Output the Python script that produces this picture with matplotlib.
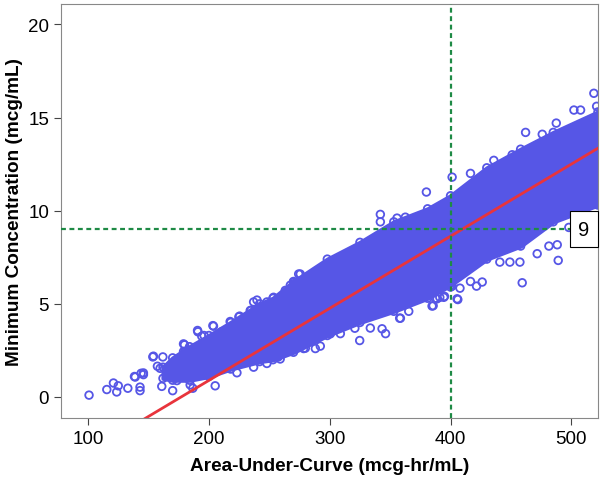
import numpy as np
import matplotlib
matplotlib.use("Agg")
import matplotlib.pyplot as plt

plt.rcParams['font.family'] = ['Liberation Sans', 'DejaVu Sans']

# dense core of the simulated cloud (upper / lower edge)
band_x = [162, 170, 184, 200, 218, 242, 253, 270, 298, 325, 353, 381, 400, 430, 458, 485, 522]
band_hi = [1.6, 2.1, 2.7, 3.3, 4.0, 5.0, 5.3, 6.2, 7.4, 8.3, 9.4, 10.1, 10.8, 12.3, 13.3, 14.2, 15.3]
band_lo = [1.0, 0.9, 0.9, 1.1, 1.5, 1.9, 2.0, 2.4, 3.3, 4.0, 4.6, 5.3, 6.0, 7.4, 8.1, 9.4, 10.3]

# scattered points outside the core
auc_pts = [100.8, 115.5, 121, 123.7, 125, 132.9, 139, 143, 145.8, 153.6, 161.9, 161, 170,
           179.8, 179.8, 186.7, 190.9, 196, 203.8, 205.2, 217.6, 224.8, 234.8, 239.8, 248,
           253.5, 274.3, 267.4, 257.4, 248, 223.2, 138.4, 143.9, 143, 157.4, 190.6, 237,
           380, 341.9, 341.9, 355.7, 362.6, 401.3, 416.5, 435.8, 451, 462.1, 475.9, 487.5,
           502.1, 507.6, 518.6, 520.9, 324.8, 333.6, 343.3, 346.2, 357.9, 365.4, 385.6,
           391.1, 395, 406, 407.8, 416.5, 421.5, 426.2, 440.8, 449.1, 457.4, 459.3, 471.7,
           481.4, 488.3, 489.1, 497.9, 518.6, 278.4, 288.1, 297.8, 308.8, 275.6, 361.2,
           387.5, 401.3, 405.4,
           203.3, 225.4, 264.6, 270.1, 179, 179, 154.1, 194.1, 210.7, 234.2,
           237, 259, 270, 145.8, 159.6, 173.5, 184.5,
           270.1, 263.2, 292.2, 279.8, 358.5, 384.7, 388.8, 394.4, 400, 320.8, 300.5]
cmin_pts = [0.1, 0.4, 0.75, 0.27, 0.6, 0.47, 1.07, 0.53, 1.2, 2.15, 2.15, 0.57, 0.34,
            2.8, 2.4, 0.47, 3.5, 3.3, 3.8, 0.6, 4.05, 4.3, 4.65, 5.2, 5.1,
            5.35, 6.6, 6.0, 2.15, 1.8, 1.3, 1.1, 1.27, 0.34, 1.65, 3.57, 5.1,
            11.0, 9.8, 9.4, 9.6, 9.65, 11.8, 12.0, 12.7, 13.0, 14.2, 14.1, 14.7,
            15.4, 15.4, 16.3, 15.6, 3.03, 3.7, 3.66, 3.4, 4.23, 4.6, 4.9,
            5.35, 5.4, 5.23, 5.84, 6.2, 5.95, 6.17, 7.24, 7.24, 7.24, 6.13, 7.69,
            8.1, 8.17, 7.33, 9.1, 10.55, 2.6, 2.6, 3.5, 3.4, 6.6, 5.1,
            5.3, 5.95, 5.27,
            3.83, 4.34, 5.54, 6.08, 2.85, 2.44, 2.19, 3.26, 3.51, 4.64,
            1.6, 2.04, 2.76, 1.29, 1.54, 0.88, 0.65,
            6.17, 5.72, 2.73, 2.62, 4.23, 4.88, 5.27, 5.35, 5.9, 3.69, 3.39]

# fitted regression line
fit_intercept = -6.85
fit_slope = 0.0387

# reference lines
target_auc = 400
target_cmin = 9

blue = '#5656E6'

fig = plt.figure(figsize=(6.04, 4.85), dpi=100)
ax = fig.add_axes([0.101, 0.136, 0.889, 0.854])

ax.fill_between(band_x, band_lo, band_hi, color=blue, lw=3, zorder=2)
ax.scatter(band_x + band_x, band_lo + band_hi, s=30, facecolors='none',
           edgecolors=blue, linewidths=1.3, zorder=2)
ax.scatter(auc_pts, cmin_pts, s=30, facecolors='none', edgecolors=blue,
           linewidths=1.3, zorder=2)

xlim = (77.6, 522)
xs = np.array(xlim)
ax.plot(xs, fit_intercept + fit_slope * xs, color='#E8343C', lw=2, zorder=3)

ax.axvline(target_auc, color='#1E8A45', lw=1.6, ls=(0, (2.2, 1.6)), zorder=4)
ax.axhline(target_cmin, color='#1E8A45', lw=1.6, ls=(0, (2.2, 1.6)), zorder=4)
ax.text(510.3, target_cmin, '9', fontsize=14.5, ha='center', va='center', zorder=5,
        bbox=dict(boxstyle='square,pad=0.42', fc='white', ec='black', lw=0.8))

ax.set_xlim(*xlim)
ax.set_ylim(-1.13, 21.1)
ax.set_xticks([100, 200, 300, 400, 500])
ax.set_yticks([0, 5, 10, 15, 20])
ax.tick_params(labelsize=13.5, length=5, color='#444444', direction='out')
for s in ax.spines.values():
    s.set_color('#888888')

ax.set_xlabel('Area-Under-Curve (mcg-hr/mL)', fontsize=13.7, fontweight='bold', labelpad=7)
ax.set_ylabel('Minimum Concentration (mcg/mL)', fontsize=13.7, fontweight='bold', labelpad=4)

fig.savefig('out.png', dpi=100)
